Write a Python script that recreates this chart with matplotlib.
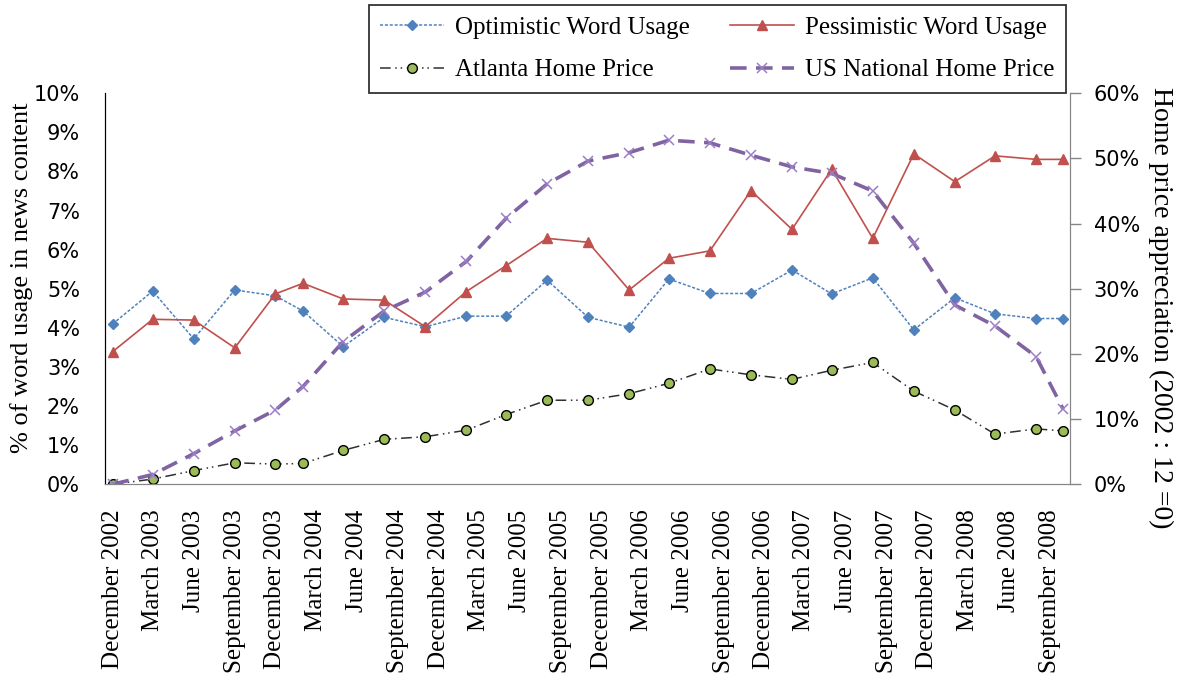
import matplotlib
matplotlib.use("Agg")
import matplotlib.pyplot as plt
import pandas as pd
from matplotlib.ticker import MultipleLocator, PercentFormatter

# observation dates (quarterly, shifted by a month from 2004 on)
dates = ["2002-12", "2003-03", "2003-06", "2003-09", "2003-12", "2004-02", "2004-05",
         "2004-08", "2004-11", "2005-02", "2005-05", "2005-08", "2005-11", "2006-02",
         "2006-05", "2006-08", "2006-11", "2007-02", "2007-05", "2007-08", "2007-11",
         "2008-02", "2008-05", "2008-08", "2008-10"]

# % of word usage in news content (left axis)
optimistic = [4.10, 4.94, 3.72, 4.97, 4.82, 4.43, 3.52, 4.27, 4.03, 4.30, 4.30, 5.22, 4.27,
              4.02, 5.25, 4.88, 4.88, 5.48, 4.87, 5.28, 3.95, 4.77, 4.36, 4.24, 4.24]
pessimistic = [3.39, 4.22, 4.20, 3.49, 4.87, 5.14, 4.74, 4.71, 4.03, 4.93, 5.59, 6.29, 6.19,
               4.97, 5.78, 5.97, 7.51, 6.52, 8.06, 6.29, 8.45, 7.74, 8.40, 8.31, 8.31]

# home price appreciation since 2002:12 (right axis, %)
atlanta = [0.0, 0.8, 2.1, 3.3, 3.1, 3.2, 5.2, 6.9, 7.3, 8.3, 10.7, 12.9, 12.9,
           13.9, 15.5, 17.7, 16.8, 16.1, 17.5, 18.7, 14.3, 11.4, 7.7, 8.5, 8.2]
us_national = [0.0, 1.5, 4.7, 8.2, 11.4, 15.0, 21.9, 26.6, 29.5, 34.2, 40.8, 46.1, 49.6,
               50.9, 52.8, 52.4, 50.5, 48.7, 47.7, 45.0, 37.0, 27.5, 24.3, 19.6, 11.5]

tick_labels = ["December 2002", "March 2003", "June 2003", "September 2003", "December 2003",
               "March 2004", "June 2004", "September 2004", "December 2004", "March 2005",
               "June 2005", "September 2005", "December 2005", "March 2006", "June 2006",
               "September 2006", "December 2006", "March 2007", "June 2007", "September 2007",
               "December 2007", "March 2008", "June 2008", "September 2008"]

x = pd.to_datetime(dates)
tick_pos = pd.to_datetime(tick_labels, format="%B %Y")

plt.rcParams["font.family"] = ["Liberation Serif", "DejaVu Serif"]
grey = "#868686"

fig = plt.figure(figsize=(11.82, 6.78), dpi=100)
ax = fig.add_axes([0.0888, 0.2857, 0.8164, 0.5767])
ax2 = ax.twinx()

l_opt, = ax.plot(x, optimistic, color="#4F81BD", lw=1.1, ls=(0, (2, 1.2)),
                 marker="D", ms=5, label="Optimistic Word Usage")
l_pes, = ax.plot(x, pessimistic, color="#C0504D", lw=1.2, ls="-",
                 marker="^", ms=7.5, label="Pessimistic Word Usage")
l_atl, = ax2.plot(x, atlanta, color="#303030", lw=1.1, ls=(0, (7, 3, 1, 2.5, 1, 3)),
                  marker="o", ms=7, mfc="#9BBB59", mec="black", mew=1,
                  label="Atlanta Home Price")
l_us, = ax2.plot(x, us_national, color="#8064A2", lw=2.6, ls=(0, (4.6, 2.6)),
                 marker="x", ms=7, mew=1.1, mec="#9A7FC8", label="US National Home Price")

ax.set_xlim(pd.Timestamp("2002-11-14"), pd.Timestamp("2008-10-16"))
ax.set_xticks(tick_pos)
ax.set_xticklabels(tick_labels)
ax.tick_params(axis="x", length=0, pad=18, labelsize=18, rotation=90)

ax.set_ylim(0, 10)
ax.yaxis.set_major_locator(MultipleLocator(1))
ax.yaxis.set_major_formatter(PercentFormatter(decimals=0))
ax.tick_params(axis="y", length=0, pad=18, labelsize=15, labelfontfamily="DejaVu Sans")

ax2.set_ylim(0, 60)
ax2.yaxis.set_major_locator(MultipleLocator(10))
ax2.yaxis.set_major_formatter(PercentFormatter(decimals=0))
ax2.tick_params(axis="y", length=8, width=1, color=grey, pad=9, labelsize=15,
                labelfontfamily="DejaVu Sans")

for a in (ax, ax2):
    a.spines["top"].set_visible(False)
    a.spines["bottom"].set_color(grey)
    a.spines["right"].set_color(grey)
    a.spines["left"].set_color("black")

fig.text(22 / 1182, 1 - 278 / 678, "% of word usage in news content", rotation=90,
         ha="center", va="center", fontsize=19)
fig.text(1161 / 1182, 1 - 308 / 678, "Home price appreciation (2002 : 12 =0)", rotation=270,
         ha="center", va="center", fontsize=20)

leg = fig.legend(handles=[l_opt, l_atl, l_pes, l_us], ncol=2, loc="upper left",
                 bbox_to_anchor=(369 / 1182, 1 - 5 / 678), borderaxespad=0,
                 fontsize=18, frameon=True, fancybox=False, edgecolor="black",
                 handlelength=2.55, handletextpad=0.45, columnspacing=1.6,
                 labelspacing=0.8, borderpad=0.45)
leg.get_frame().set_linewidth(1.3)

fig.savefig("out.png", dpi=100)
